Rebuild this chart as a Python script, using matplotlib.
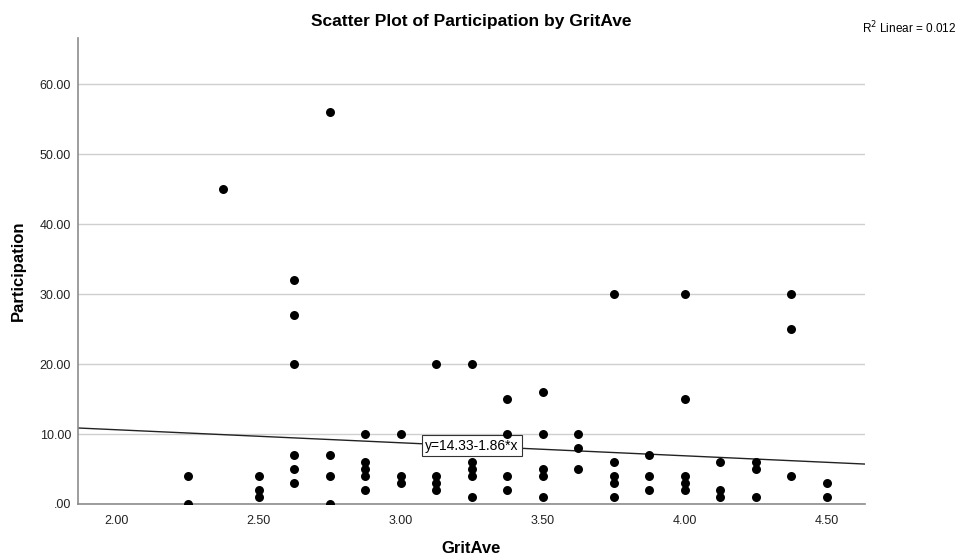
import numpy as np
import matplotlib
matplotlib.use('Agg')
import matplotlib.pyplot as plt

plt.rcParams['font.family'] = ['Liberation Sans', 'DejaVu Sans']

# GritAve / Participation pairs, one row per GritAve value
grit_ave = [
    2.25, 2.25,
    2.375,
    2.50, 2.50, 2.50,
    2.625, 2.625, 2.625, 2.625, 2.625, 2.625,
    2.75, 2.75, 2.75, 2.75,
    2.875, 2.875, 2.875, 2.875, 2.875,
    3.00, 3.00, 3.00,
    3.125, 3.125, 3.125, 3.125,
    3.25, 3.25, 3.25, 3.25, 3.25,
    3.375, 3.375, 3.375, 3.375,
    3.50, 3.50, 3.50, 3.50, 3.50,
    3.625, 3.625, 3.625,
    3.75, 3.75, 3.75, 3.75, 3.75,
    3.875, 3.875, 3.875,
    4.00, 4.00, 4.00, 4.00, 4.00,
    4.125, 4.125, 4.125,
    4.25, 4.25, 4.25,
    4.375, 4.375, 4.375,
    4.50, 4.50,
]
participation = [
    4, 0,
    45,
    4, 2, 1,
    32, 27, 20, 7, 5, 3,
    56, 7, 4, 0,
    10, 6, 5, 4, 2,
    10, 4, 3,
    20, 4, 3, 2,
    20, 6, 5, 4, 1,
    15, 10, 4, 2,
    16, 10, 5, 4, 1,
    10, 8, 5,
    30, 6, 4, 3, 1,
    7, 4, 2,
    30, 15, 4, 3, 2,
    6, 2, 1,
    6, 5, 1,
    30, 25, 4,
    3, 1,
]

# fit line as reported
intercept = 14.33
slope = -1.86
r_squared = 0.012

x_ticks = [2.00, 2.50, 3.00, 3.50, 4.00, 4.50]
y_ticks = [0, 10, 20, 30, 40, 50, 60]

fig = plt.figure(figsize=(9.64, 5.6), dpi=100)
ax = fig.add_axes([0.081, 0.1, 0.816, 0.832])

xlim = (1.863, 4.634)
ylim = (0, 66.6)
ax.set_xlim(*xlim)
ax.set_ylim(*ylim)

ax.set_yticks(y_ticks)
ax.set_xticks(x_ticks)
ax.set_yticklabels(['.00' if v == 0 else f'{v:.2f}' for v in y_ticks])
ax.set_xticklabels([f'{v:.2f}' for v in x_ticks])
ax.tick_params(axis='both', length=0, labelsize=9, colors='#222222')
ax.tick_params(axis='y', pad=5)
ax.tick_params(axis='x', pad=8)

ax.grid(axis='y', color='#cfcfcf', linewidth=1)
ax.set_axisbelow(True)
for side in ['top', 'right']:
    ax.spines[side].set_visible(False)
for side in ['left', 'bottom']:
    ax.spines[side].set_color('#8c8c8c')
    ax.spines[side].set_linewidth(1.2)

ax.scatter(grit_ave, participation, s=42, color='black', zorder=5, linewidths=0)

xs = np.array(xlim)
ax.plot(xs, intercept + slope * xs, color='#222222', linewidth=1, zorder=2)
ax.text(3.25, 8.35, f'y={intercept:.2f}{slope:.2f}*x', fontsize=10,
        ha='center', va='center', zorder=4,
        bbox=dict(boxstyle='square,pad=0.25', facecolor='white',
                  edgecolor='#333333', linewidth=0.8))

ax.set_xlabel('GritAve', fontsize=12, fontweight='bold', labelpad=10)
ax.set_ylabel('Participation', fontsize=12, fontweight='bold', labelpad=10)
ax.set_title('Scatter Plot of Participation by GritAve', fontsize=12.5,
             fontweight='bold', pad=9)

fig.text(0.992, 0.95, f'R$^2$ Linear = {r_squared:.3f}', fontsize=8.5,
         ha='right', va='center')

fig.savefig('out.png', dpi=100)
